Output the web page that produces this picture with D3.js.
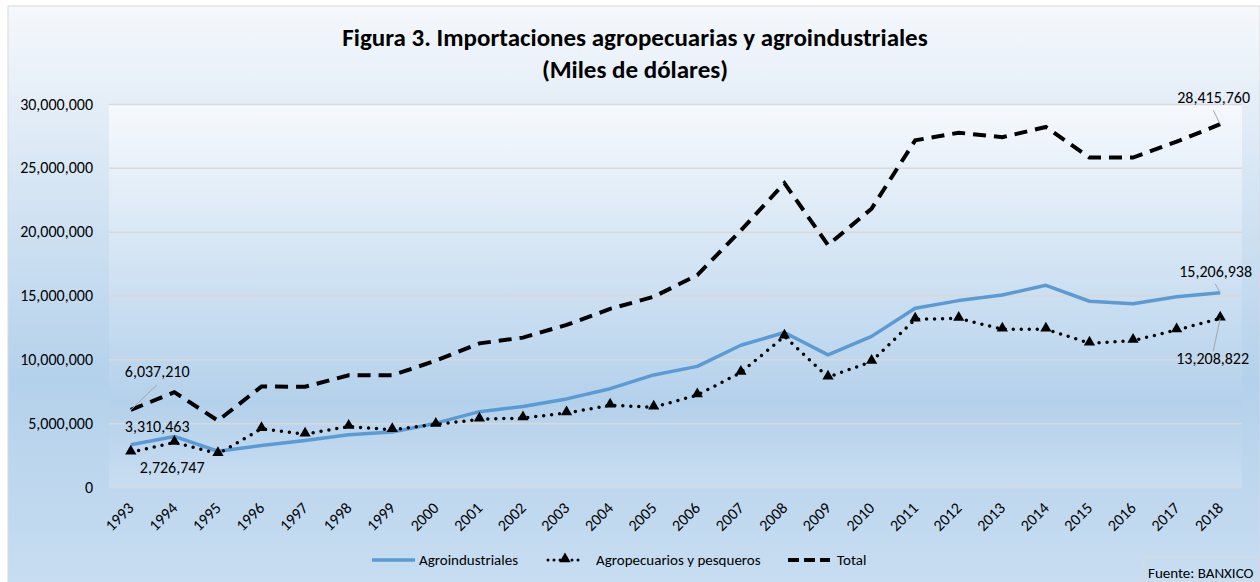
<!DOCTYPE html>
<html>
<head>
<meta charset="utf-8">
<script src="https://cdn.jsdelivr.net/npm/d3@7"></script>
<style>
  body { margin: 0; background: #fff; }
  svg text { font-family: Carlito, Calibri, Lato, "Open Sans", sans-serif; fill: #000; }
</style>
</head>
<body>
<div id="chart"></div>
<script>
// Datos (miles de dólares)
var anios = ["1993","1994","1995","1996","1997","1998","1999","2000","2001","2002","2003","2004","2005",
             "2006","2007","2008","2009","2010","2011","2012","2013","2014","2015","2016","2017","2018"];

var agroindustriales = [3310463, 3960000, 2800000, 3250000, 3650000, 4100000, 4300000, 5000000, 5900000, 6300000,
                        6900000, 7700000, 8780000, 9450000, 11100000, 12100000, 10350000, 11800000, 14000000,
                        14600000, 15040000, 15800000, 14550000, 14350000, 14900000, 15206938];

var agropecuarios = [2726747, 3490000, 2600000, 4560000, 4140000, 4740000, 4480000, 4900000, 5300000, 5400000,
                     5800000, 6400000, 6250000, 7200000, 8970000, 11800000, 8600000, 9830000, 13140000,
                     13200000, 12360000, 12360000, 11260000, 11470000, 12300000, 13208822];

var total = [6037210, 7430000, 5200000, 7870000, 7850000, 8750000, 8750000, 9900000, 11250000, 11700000,
             12700000, 13950000, 14900000, 16600000, 20100000, 23800000, 18950000, 21800000, 27150000,
             27750000, 27400000, 28200000, 25800000, 25800000, 27050000, 28415760];

var yTicks = [0, 5000000, 10000000, 15000000, 20000000, 25000000, 30000000];
var nombres = ["Agroindustriales", "Agropecuarios y pesqueros", "Total"];

// Dimensiones
var W = 1260, H = 582;
var margin = {top: 104, right: 18, bottom: 95, left: 109};
var width = W - margin.left - margin.right,
    height = H - margin.top - margin.bottom;

var svg = d3.select("#chart").append("svg")
    .attr("width", W)
    .attr("height", H);

// Gradientes de fondo
var defs = svg.append("defs");
var gOut = defs.append("linearGradient").attr("id", "gOut").attr("x1", 0).attr("y1", 0).attr("x2", 0).attr("y2", 1);
gOut.append("stop").attr("offset", "0%").attr("stop-color", "#f5f8fc");
gOut.append("stop").attr("offset", "65%").attr("stop-color", "#b4d1eb");
gOut.append("stop").attr("offset", "100%").attr("stop-color", "#c7ddf1");

var gIn = defs.append("linearGradient").attr("id", "gIn").attr("x1", 0).attr("y1", 0).attr("x2", 0).attr("y2", 1);
gIn.append("stop").attr("offset", "0%").attr("stop-color", "#f6f9fd");
gIn.append("stop").attr("offset", "78%").attr("stop-color", "#b4d1eb");
gIn.append("stop").attr("offset", "100%").attr("stop-color", "#c8ddf1");

svg.append("rect")
    .attr("x", 8).attr("y", 6)
    .attr("width", W - 8).attr("height", H - 6)
    .attr("fill", "url(#gOut)")
    .attr("stroke", "#d9d9d9")
    .attr("stroke-width", 1);

var vis = svg.append("g")
    .attr("transform", "translate(" + margin.left + "," + margin.top + ")");

vis.append("rect")
    .attr("width", width).attr("height", height)
    .attr("fill", "url(#gIn)");

// Escalas
var x = d3.scaleBand().domain(anios).range([0, width]);
var y = d3.scaleLinear().domain([0, 30000000]).range([height, 0]);
var cx = function(d, i) { return x(anios[i]) + x.bandwidth() / 2; };

// Grid
var yAxisGrid = d3.axisLeft(y)
    .tickValues(yTicks)
    .tickSizeInner(-width)
    .tickSizeOuter(0)
    .tickFormat("");
vis.append("g")
    .attr("class", "grid")
    .call(yAxisGrid)
    .call(function(g) {
      g.select(".domain").remove();
      g.selectAll("line").attr("stroke", "#d9d9d9").attr("stroke-width", 1.5);
    });

// Eje y
var yAxis = d3.axisLeft(y)
    .tickValues(yTicks)
    .tickSize(0)
    .tickPadding(16)
    .tickFormat(d3.format(","));
vis.append("g")
    .call(yAxis)
    .call(function(g) {
      g.select(".domain").remove();
      g.selectAll("text").style("font-size", "16px");
    });

// Eje x
var xAxis = d3.axisBottom(x).tickSize(0).tickPadding(0);
vis.append("g")
    .attr("transform", "translate(0," + height + ")")
    .call(xAxis)
    .call(function(g) {
      g.select(".domain").remove();
      g.selectAll("text")
        .style("font-size", "16px")
        .attr("text-anchor", "end")
        .attr("dy", null)
        .attr("y", 0)
        .attr("transform", "translate(4,22) rotate(-45)");
    });

// Lineas
var linea = d3.line()
    .x(cx)
    .y(function(d) { return y(d); });

vis.append("path")
    .attr("d", linea(total))
    .attr("fill", "none")
    .attr("stroke", "#000")
    .attr("stroke-width", 4)
    .attr("stroke-dasharray", "13,8");

vis.append("path")
    .attr("d", linea(agroindustriales))
    .attr("fill", "none")
    .attr("stroke", "#5b9bd5")
    .attr("stroke-width", 3.5)
    .attr("stroke-linejoin", "round");

vis.append("path")
    .attr("d", linea(agropecuarios))
    .attr("fill", "none")
    .attr("stroke", "#000")
    .attr("stroke-width", 3.5)
    .attr("stroke-linecap", "round")
    .attr("stroke-dasharray", "0,8");

var tri = d3.symbol().type(d3.symbolTriangle).size(55);
vis.selectAll(".tri")
    .data(agropecuarios)
  .enter().append("path")
    .attr("class", "tri")
    .attr("d", tri)
    .attr("fill", "#000")
    .attr("transform", function(d, i) { return "translate(" + cx(d, i) + "," + (y(d) - 1) + ")"; });

// Etiquetas de datos
var fmt = d3.format(",");
var n = anios.length - 1;
var etiquetas = [
  {v: total[0], i: 0, dx: -6, dy: -33, lx: 26, ly: -25},
  {v: agroindustriales[0], i: 0, dx: -6, dy: -13},
  {v: agropecuarios[0], i: 0, dx: 9, dy: 21},
  {v: total[n], i: n, dx: -43, dy: -21, lx: -7, ly: -14},
  {v: agroindustriales[n], i: n, dx: -41, dy: -16, lx: -5, ly: -9},
  {v: agropecuarios[n], i: n, dx: -44, dy: 46, lx: -7, ly: 33}
];

etiquetas.forEach(function(e) {
  var px = cx(e.v, e.i), py = y(e.v);
  if (e.lx !== undefined) {
    vis.append("line")
      .attr("x1", px).attr("y1", py)
      .attr("x2", px + e.lx).attr("y2", py + e.ly)
      .attr("stroke", "#a6a6a6").attr("stroke-width", 1);
  }
  vis.append("text")
    .attr("x", px + e.dx).attr("y", py + e.dy)
    .style("font-size", "16px")
    .text(fmt(e.v));
});

// Titulo
svg.append("text")
    .attr("x", 635).attr("y", 46)
    .attr("text-anchor", "middle")
    .style("font-size", "25px").style("font-weight", "bold")
    .text("Figura 3. Importaciones agropecuarias y agroindustriales");
svg.append("text")
    .attr("x", 635).attr("y", 78)
    .attr("text-anchor", "middle")
    .style("font-size", "25px").style("font-weight", "bold")
    .text("(Miles de dólares)");

// Leyenda
var leg = svg.append("g").attr("transform", "translate(0,560)");
// Agroindustriales
leg.append("line").attr("x1", 372).attr("x2", 415).attr("y1", 0).attr("y2", 0)
    .attr("stroke", "#5b9bd5").attr("stroke-width", 3.5);
// Agropecuarios
leg.append("line").attr("x1", 548).attr("x2", 582).attr("y1", 0).attr("y2", 0)
    .attr("stroke", "#000").attr("stroke-width", 3).attr("stroke-linecap", "round").attr("stroke-dasharray", "0,6");
leg.append("path").attr("d", tri).attr("fill", "#000").attr("transform", "translate(565,-1)");
// Total
leg.append("line").attr("x1", 788).attr("x2", 830).attr("y1", 0).attr("y2", 0)
    .attr("stroke", "#000").attr("stroke-width", 4).attr("stroke-dasharray", "11,5");

var legX = [419, 596, 837];
leg.selectAll(".lt")
    .data(nombres)
  .enter().append("text")
    .attr("class", "lt")
    .attr("x", function(d, i) { return legX[i]; })
    .attr("y", 5)
    .style("font-size", "15px")
    .text(function(d) { return d; });

// Fuente
svg.append("rect")
    .attr("x", 1144).attr("y", 557).attr("width", 116).attr("height", 26)
    .attr("fill", "none").attr("stroke", "#d9d9d9").attr("stroke-width", 1);
svg.append("text")
    .attr("x", 1148).attr("y", 578)
    .style("font-size", "15px")
    .text("Fuente: BANXICO");
</script>
</body>
</html>
